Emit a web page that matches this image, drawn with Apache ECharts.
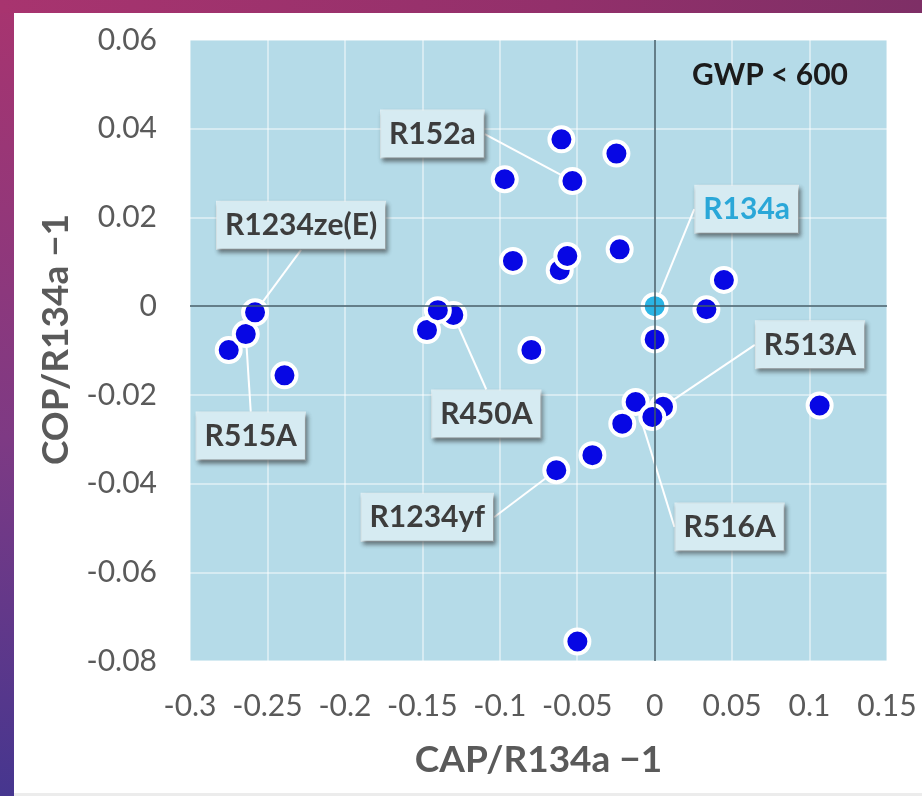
<!DOCTYPE html>
<html>
<head>
<meta charset="utf-8">
<script src="https://cdn.jsdelivr.net/npm/echarts@6/dist/echarts.min.js"></script>
<style>
  html, body { margin: 0; padding: 0; }
  body {
    width: 922px; height: 796px; overflow: hidden; position: relative;
    background: linear-gradient(180deg, #a8346f 0%, #7e3a84 55%, #46368f 100%);
  }
  #topstrip { position: absolute; left: 0; top: 0; width: 922px; height: 13px;
    background: linear-gradient(90deg, #a8346f 0%, #93306b 60%, #7e2f66 100%); }
  #panel { position: absolute; left: 14px; top: 13px; width: 908px; height: 780px;
    background: #ffffff; border-bottom: 3px solid #ececec; }
  #chart { position: absolute; left: 0; top: 0; width: 922px; height: 796px; }
</style>
</head>
<body>
<div id="topstrip"></div>
<div id="panel"></div>
<div id="chart"></div>
<script>
// ---- data ----
const capValues = [-0.275, -0.264, -0.258, -0.239, -0.130, -0.147, -0.140, -0.0796,
  -0.0602, -0.0247, -0.0968, -0.0531, -0.0915, -0.0613, -0.0564, -0.0226,
  0.0, 0.0334, 0.0447, 0.0, 0.0054, -0.0123, -0.0209, -0.0015,
  -0.0402, -0.0635, 0.1065, -0.0499];
const copValues = [-0.0099, -0.0063, -0.0014, -0.0156, -0.0020, -0.0054, -0.0009, -0.0099,
  0.0376, 0.0344, 0.0286, 0.0282, 0.0102, 0.0081, 0.0113, 0.0128,
  0.0, -0.0007, 0.0059, -0.0075, -0.0227, -0.0216, -0.0265, -0.0250,
  -0.0336, -0.0370, -0.0224, -0.0756];
const pointNames = ['', 'R515A', 'R1234ze(E)', '', 'R450A', '', '', '',
  '', '', '', 'R152a', '', '', '', '',
  'R134a', '', '', '', 'R513A', 'R516A', '', '',
  '', 'R1234yf', '', ''];
const referenceName = 'R134a';
const xTicks = { min: -0.3, max: 0.15, step: 0.05 };
const yTicks = { min: -0.08, max: 0.06, step: 0.02 };
const noteText = 'GWP < 600';
const xName = 'CAP/R134a \u22121';
const yName = 'COP/R134a \u22121';

// ---- label placement (pixel offsets from the marker) ----
const labelOffsets = {
  'R152a': [-140, -47],
  'R1234ze(E)': [46, -87],
  'R134a': [92, -97],
  'R513A': [147, -62],
  'R515A': [5, 102],
  'R450A': [33, 99],
  'R1234yf': [-129, 47],
  'R516A': [94, 125]
};

const FONT = 'Lato, "Open Sans", sans-serif';
const blue = '#0707e4';
const cyan = '#2bb4e4';

const data = capValues.map((x, i) => {
  const name = pointNames[i];
  const isRef = name === referenceName;
  const item = { value: [x, copValues[i]], name: name };
  if (isRef) item.itemStyle = { color: cyan };
  if (name) {
    item.label = { show: true, color: isRef ? '#2aa7d8' : '#3d3d3d' };
    item.labelLine = { show: true };
  }
  return item;
});

const fmt = v => String(parseFloat(Number(v).toFixed(3)));

const chart = echarts.init(document.getElementById('chart'), null, { renderer: 'canvas' });
chart.setOption({
  animation: false,
  backgroundColor: 'transparent',
  grid: {
    left: 190, right: 35, top: 40, bottom: 135,
    show: true, backgroundColor: '#b5dbe8', borderWidth: 0
  },
  xAxis: {
    type: 'value', min: xTicks.min, max: xTicks.max, interval: xTicks.step,
    axisLine: { show: false }, axisTick: { show: false },
    axisLabel: { fontFamily: FONT, fontSize: 30, color: '#5a5a5a', margin: 30, formatter: fmt },
    splitLine: { show: true, lineStyle: { color: 'rgba(255,255,255,0.6)', width: 1.5 } },
    name: xName, nameLocation: 'middle', nameGap: 81,
    nameTextStyle: { fontFamily: FONT, fontSize: 37, fontWeight: 'bold', color: '#5a5a5a' }
  },
  yAxis: {
    type: 'value', min: yTicks.min, max: yTicks.max, interval: yTicks.step,
    axisLine: { show: false }, axisTick: { show: false },
    axisLabel: { fontFamily: FONT, fontSize: 30, color: '#5a5a5a', margin: 33, formatter: fmt },
    splitLine: { show: true, lineStyle: { color: 'rgba(255,255,255,0.6)', width: 1.5 } },
    name: yName, nameLocation: 'middle', nameGap: 115,
    nameTextStyle: { fontFamily: FONT, fontSize: 37, fontWeight: 'bold', color: '#5a5a5a',
      padding: [0, 0, 0, 22] }
  },
  graphic: [{
    type: 'text', right: 74, top: 60, z: 10,
    style: { text: noteText, fontFamily: FONT, fontSize: 30, fontWeight: 'bold', fill: '#1b1b1b' }
  }],
  series: [
    {
      type: 'line', data: [], z: 1, silent: true,
      markLine: {
        silent: true, symbol: ['none', 'none'], animation: false,
        label: { show: false },
        lineStyle: { color: '#3e5a66', width: 1.5, type: 'solid' },
        data: [{ xAxis: 0 }, { yAxis: 0 }]
      }
    },
    {
      type: 'scatter', z: 3,
      symbol: 'circle', symbolSize: 24,
      itemStyle: { color: blue, borderColor: '#ffffff', borderWidth: 4, opacity: 1 },
      label: {
        show: false, position: 'inside', formatter: '{b}',
        fontFamily: FONT, fontSize: 30, fontWeight: 'bold',
        backgroundColor: '#d6ebf2', padding: [9, 8, 8, 8],
        borderColor: 'rgba(255,255,255,0.6)', borderWidth: 1,
        shadowColor: 'rgba(40,40,40,0.55)', shadowBlur: 4,
        shadowOffsetX: 2, shadowOffsetY: 3
      },
      labelLine: { show: false, lineStyle: { color: '#ffffff', width: 2 } },
      labelLayout: function (params) {
        const n = pointNames[params.dataIndex];
        const off = labelOffsets[n];
        if (!off) return {};
        return { dx: off[0], dy: off[1] };
      },
      data: data
    }
  ]
});
</script>
</body>
</html>
